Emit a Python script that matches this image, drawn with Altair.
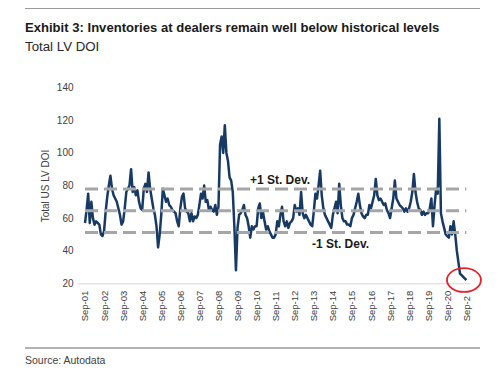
import json
import altair as alt
import pandas as pd

# ---------------- data ----------------
title_text = ["Exhibit 3: Inventories at dealers remain well below historical levels"]
subtitle_text = ["Total LV DOI"]
source_text = ["Source: Autodata"]
y_title = "Total US LV DOI"

x_labels = ["Sep-01", "Sep-02", "Sep-03", "Sep-04", "Sep-05", "Sep-06", "Sep-07",
            "Sep-08", "Sep-09", "Sep-10", "Sep-11", "Sep-12", "Sep-13", "Sep-14",
            "Sep-15", "Sep-16", "Sep-17", "Sep-18", "Sep-19", "Sep-20", "Sep-2"]
x_tick_months = [0, 12, 24, 36, 48, 60, 72, 84, 96, 108, 120, 132, 144, 156,
                 168, 180, 192, 204, 216, 228, 240]
y_ticks = [20, 40, 60, 80, 100, 120, 140]

# monthly Total US LV days of inventory, Sep-01 .. Sep-21
doi = [
    57, 65, 75, 57, 70, 60, 56, 58, 57, 56, 50, 49,
    52, 64, 73, 80, 86, 78, 74, 72, 70, 66, 62, 56,
    58, 66, 76, 78, 80, 90, 76, 79, 74, 77, 70, 66,
    65, 78, 81, 76, 88, 78, 72, 66, 62, 55, 42, 50,
    62, 78, 74, 70, 72, 68, 67, 65, 64, 63, 58, 55,
    66, 73, 75, 66, 64, 63, 58, 63, 58, 61, 60, 62,
    68, 75, 72, 80, 70, 71, 65, 67, 65, 64, 68, 62,
    67, 105, 110, 100, 117, 100, 95, 85, 83, 76, 55, 28,
    54, 62, 63, 65, 68, 62, 60, 55, 48, 55, 53, 55,
    55, 66, 69, 60, 64, 58, 53, 55, 52, 50, 48, 48,
    50, 58, 55, 62, 67, 58, 55, 58, 54, 57, 58, 60,
    68, 64, 66, 62, 76, 63, 60, 62, 60, 58, 56, 55,
    64, 75, 72, 80, 89, 74, 66, 62, 60, 58, 56, 54,
    62, 66, 70, 63, 81, 68, 60, 58, 58, 56, 56, 55,
    60, 62, 66, 70, 75, 68, 63, 61, 60, 62, 62, 68,
    66, 70, 74, 84, 74, 71, 72, 70, 68, 69, 65, 63,
    60, 66, 72, 83, 72, 70, 68, 67, 66, 64, 66, 64,
    66, 70, 76, 87, 76, 70, 66, 65, 62, 64, 62, 63,
    63, 66, 72, 55, 68, 78, 75, 121, 63, 58, 54, 50,
    49, 48, 55, 50, 58, 50, 40, 33, 26, 25, 24, 23, 22,
]
months = list(range(len(doi)))

sd_levels = [77.8, 64.5, 51.2]
sd_labels = ["+1 St. Dev.", "-1 St. Dev."]
sd_label_month = [122.7, 160.8]
sd_label_value = [83.3, 44.1]

highlight_month = [238.5]
highlight_value = [22]

# ---------------- chart ----------------
W, H = 393, 195.6
SANS = "Liberation Sans, Arial, sans-serif"

df = pd.DataFrame({"m": months, "doi": doi})
label_expr = json.dumps(x_labels) + "[round(datum.value / 12)]"

x_scale = alt.Scale(domain=[-5.03, 242.3], nice=False, zero=False)
y_scale = alt.Scale(domain=[20, 140], nice=False, zero=False)

line = alt.Chart(df).mark_line(color="#173a64", strokeWidth=2.5, strokeJoin="round").encode(
    x=alt.X("m:Q", scale=x_scale, title=None,
            axis=alt.Axis(values=x_tick_months, tickCount=len(x_tick_months) + 5,
                          labelExpr=label_expr, labelAngle=270,
                          labelAlign="left", labelBaseline="middle", labelPadding=37.5,
                          ticks=False, grid=False, domainColor="#d9d9d9", domainWidth=1,
                          labelFont=SANS, labelFontSize=9.5, labelColor="#404040",
                          labelOverlap=False, labelFlush=False, labelBound=False)),
    y=alt.Y("doi:Q", scale=y_scale, title=y_title,
            axis=alt.Axis(values=y_ticks, tickCount=len(y_ticks) + 5,
                          ticks=False, grid=False, domain=False, labelOverlap=False,
                          labelPadding=4, labelFont=SANS, labelFontSize=10,
                          labelColor="#404040", titleFont=SANS, titleFontSize=10,
                          titleFontWeight="normal", titleColor="#404040",
                          titleX=-32, titleY=97.8, titleAngle=270,
                          titleAlign="center", titleBaseline="middle")),
)

sd_df = pd.DataFrame({"level": sd_levels})
sd_lines = alt.Chart(sd_df).mark_rule(color="#a6a6a6", strokeWidth=3, strokeDash=[13, 6]).encode(
    x=alt.datum(0, scale=x_scale), x2=alt.datum(240), y=alt.Y("level:Q", scale=y_scale)
)

sd_text_df = pd.DataFrame({"label": sd_labels, "m": sd_label_month, "v": sd_label_value})
sd_text = alt.Chart(sd_text_df).mark_text(font=SANS, fontSize=12, fontWeight="bold",
                                          color="#1a1a1a", align="center", baseline="middle").encode(
    x=alt.X("m:Q", scale=x_scale), y=alt.Y("v:Q", scale=y_scale), text="label:N"
)

hl_df = pd.DataFrame({"m": highlight_month, "v": highlight_value})
ellipse = alt.Chart(hl_df).mark_point(
    shape="M -1 0 A 1 0.7 0 1 0 1 0 A 1 0.7 0 1 0 -1 0 Z",
    size=1156, filled=False, color="#e3232b", strokeWidth=1.8, opacity=1,
).encode(x=alt.X("m:Q", scale=x_scale), y=alt.Y("v:Q", scale=y_scale))

title = alt.Chart(pd.DataFrame({"t": title_text})).mark_text(
    font=SANS, fontSize=13.1, fontWeight="bold", color="#1a1a1a", align="left",
    baseline="alphabetic").encode(x=alt.value(-52), y=alt.value(-56), text="t:N")
subtitle = alt.Chart(pd.DataFrame({"t": subtitle_text})).mark_text(
    font=SANS, fontSize=13.3, color="#262626", align="left",
    baseline="alphabetic").encode(x=alt.value(-52), y=alt.value(-36.2), text="t:N")
source = alt.Chart(pd.DataFrame({"t": source_text})).mark_text(
    font=SANS, fontSize=10.5, color="#404040", align="left",
    baseline="alphabetic").encode(x=alt.value(-52), y=alt.value(276), text="t:N")

top_rule = alt.Chart(pd.DataFrame({"t": [0]})).mark_rule(color="#9a9a9a", strokeWidth=1.5).encode(
    x=alt.value(-52), x2=alt.value(403), y=alt.value(-79.4))
bottom_rule = alt.Chart(pd.DataFrame({"t": [0]})).mark_rule(color="#9a9a9a", strokeWidth=1.5).encode(
    x=alt.value(-52), x2=alt.value(403), y=alt.value(260.3))

chart = alt.layer(line, sd_lines, sd_text, ellipse, title, subtitle, source, top_rule, bottom_rule).properties(
    width=W, height=H,
    autosize=alt.AutoSizeParams(type="none"),
    padding={"left": 69, "top": 79.7, "right": 14, "bottom": 82},
    background="white",
).configure_view(stroke=None)

chart.save("out.html", embed_options={"renderer": "svg", "actions": False})
